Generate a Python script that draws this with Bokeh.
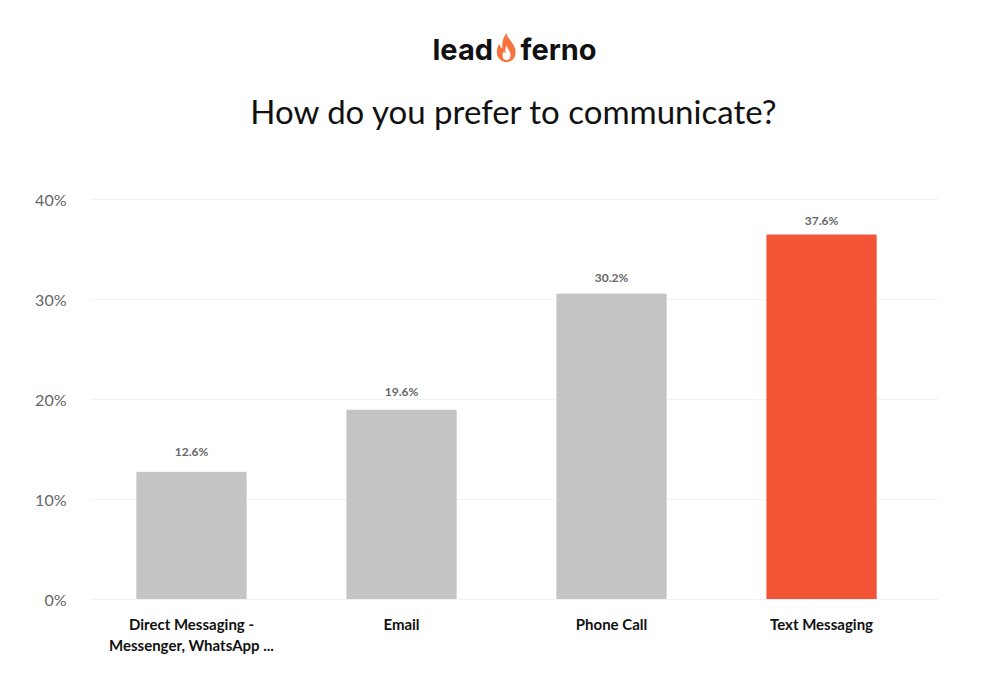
from bokeh.plotting import figure
from bokeh.layouts import column
from bokeh.models import ColumnDataSource, FixedTicker, LabelSet, Title, Div
from bokeh.core.properties import value
from bokeh.embed import file_html
from bokeh.resources import INLINE

categories = ["Direct Messaging -\nMessenger, WhatsApp ...", "Email", "Phone Call", "Text Messaging"]
shown_values = [12.6, 19.6, 30.2, 37.6]
bar_heights = [12.7, 18.9, 30.5, 36.4]
label_heights = [14.8, 20.8, 32.2, 37.9]
bar_colors = ["#c4c4c4", "#c4c4c4", "#c4c4c4", "#f45537"]
y_ticks = [0, 10, 20, 30, 40]
title_text = "How do you prefer to communicate?"
logo_text = "lead\u00a0\u00a0\u00a0\u00a0ferno"

W, H, TOP = 984, 680, 29
p = figure(width=W, height=H - TOP, output_backend="svg", toolbar_location=None,
           x_range=(-0.481, 3.557), y_range=(0, 40.05), margin=(TOP, 0, 0, 0),
           min_border_left=90, min_border_right=46, min_border_top=0, min_border_bottom=81,
           outline_line_color=None, background_fill_color="white")
src = ColumnDataSource(dict(x=[0, 1, 2, 3], top=bar_heights, ly=label_heights, c=bar_colors,
                            t=[f"{v:.1f}%" for v in shown_values]))
p.vbar(x="x", top="top", width=0.52, color="c", source=src)
p.add_layout(LabelSet(x="x", y="ly", text="t", source=src, text_align="center", text_baseline="middle",
                      text_font=value("Lato"), text_font_size=value("12px"), text_font_style="bold", text_color="#666666"))
p.xgrid.visible = False
p.ygrid.grid_line_color = "#f2f2f2"
p.yaxis.ticker = FixedTicker(ticks=y_ticks)
p.yaxis.major_label_overrides = {v: f"{v}%" for v in y_ticks}
p.yaxis.axis_line_color = None
p.yaxis.major_tick_line_color = None
p.yaxis.minor_tick_line_color = None
p.yaxis.major_label_text_font = "Lato"
p.yaxis.major_label_text_font_size = "16px"
p.yaxis.major_label_text_color = "#666666"
p.yaxis.major_label_standoff = 18
p.xaxis.ticker = FixedTicker(ticks=[0, 1, 2, 3])
p.xaxis.major_label_overrides = {i: c for i, c in enumerate(categories)}
p.xaxis.axis_line_color = "#f2f2f2"
p.xaxis.major_tick_line_color = None
p.xaxis.minor_tick_line_color = None
p.xaxis.major_label_text_font = "Lato"
p.xaxis.major_label_text_font_size = "15px"
p.xaxis.major_label_text_font_style = "bold"
p.xaxis.major_label_text_color = "#111111"
p.xaxis.major_label_standoff = 9
p.add_layout(Title(text="\u00a0", text_font_size="1px", standoff=43), "above")
p.add_layout(Title(text=title_text, align="center", text_font="Lato", text_font_size="33px", offset=2,
                   text_font_style="normal", text_color="#111111", standoff=44), "above")
p.add_layout(Title(text=logo_text, align="center", text_font="Inter", text_font_size="29px",
                   text_font_style="bold", text_color="#111111", standoff=0), "above")
flame = Div(width=21, height=29, margin=(-647, 0, 0, 496), text=(
    '<svg width="21" height="29" viewBox="0 0 26 30" preserveAspectRatio="none" style="display:block">'
    '<path fill="#f4733f" d="M13 0C14 5 19 8 22 13C25 18 25 23 22 26C20 29 16 30 13 30'
    'C9 30 4 28 2 24C0 20 1 15 4 11C5 13 6 15 8 16C7 10 9 4 13 0Z"/>'
    '<path fill="#ffffff" d="M13 13C14 16 18 19 18 23C18 26 16 28 13 28C10 28 8 26 8 23'
    'C8 22 9 20 10 19C10 20 11 21 12 21C11 18 12 15 13 13Z"/></svg>'))
layout = column(p, flame, spacing=0)
open("out.html", "w").write(file_html(layout, INLINE))
